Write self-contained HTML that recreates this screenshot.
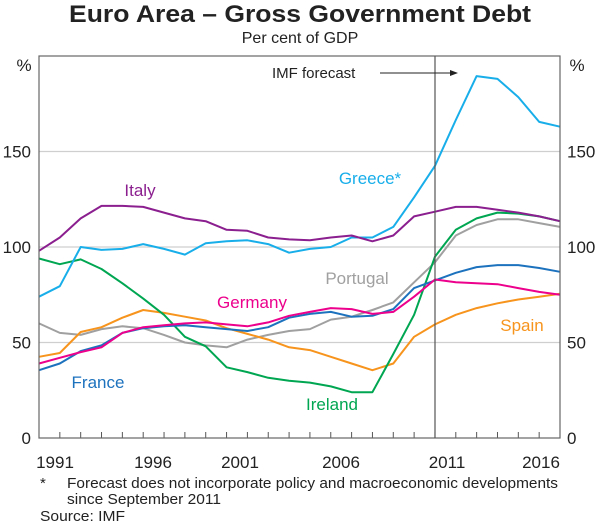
<!DOCTYPE html>
<html><head><meta charset="utf-8"><style>
body{margin:0;background:#fff;}
svg{display:block;font-family:"Liberation Sans",Arial,sans-serif;}
</style></head><body>
<svg id="chart" width="600" height="525" viewBox="0 0 600 525">
<text x="300" y="22" text-anchor="middle" font-size="24" font-weight="bold" textLength="462" lengthAdjust="spacingAndGlyphs" fill="#222">Euro Area – Gross Government Debt</text>
<text x="300" y="43" text-anchor="middle" font-size="16" fill="#222">Per cent of GDP</text>
<text x="24" y="71" text-anchor="middle" font-size="17" fill="#222">%</text>
<text x="577" y="71" text-anchor="middle" font-size="17" fill="#222">%</text>
<g id="grid"></g>
<g id="ticks"></g>
<g id="series"></g>
<rect x="39" y="56" width="521" height="382" fill="none" stroke="#666" stroke-width="1.2"/>
<line x1="435" y1="56" x2="435" y2="438" stroke="#555" stroke-width="1.2"/>
<text x="272" y="78" font-size="15" fill="#222">IMF forecast</text>
<line x1="380" y1="73" x2="452" y2="73" stroke="#222" stroke-width="1"/>
<polygon points="458,73 450,70 450,76" fill="#222"/>
<text x="140" y="196" text-anchor="middle" font-size="17" fill="#8B1F8F">Italy</text>
<text x="370" y="184" text-anchor="middle" font-size="17" fill="#18AEEA">Greece*</text>
<text x="357" y="284" text-anchor="middle" font-size="17" fill="#A0A0A0">Portugal</text>
<text x="252" y="308" text-anchor="middle" font-size="17" fill="#EC008C">Germany</text>
<text x="522" y="331" text-anchor="middle" font-size="17" fill="#F7941D">Spain</text>
<text x="98" y="388" text-anchor="middle" font-size="17" fill="#1D72BE">France</text>
<text x="332" y="410" text-anchor="middle" font-size="17" fill="#00A651">Ireland</text>
<text x="40" y="488" font-size="15" fill="#222">*</text>
<text x="67" y="488" font-size="15" fill="#222" textLength="491" lengthAdjust="spacingAndGlyphs">Forecast does not incorporate policy and macroeconomic developments</text>
<text x="67" y="504" font-size="15" fill="#222" textLength="154" lengthAdjust="spacingAndGlyphs">since September 2011</text>
<text x="40" y="521" font-size="15" fill="#222" textLength="85" lengthAdjust="spacingAndGlyphs">Source: IMF</text>
</svg>
<script>
const years = [1991,1992,1993,1994,1995,1996,1997,1998,1999,2000,2001,2002,2003,2004,2005,2006,2007,2008,2009,2010,2011,2012,2013,2014,2015,2016];
const yTicks = [0,50,100,150];
const xTickLabels = ["1991","1996","2001","2006","2011","2016"];
const xLabelPos = [55,153,240,341,447,541];
const italy = [98,105,115,121.5,121.5,121,118,115,113.5,109,108.5,105,104,103.5,105,106,103,106,116,118.5,121,121,119.5,118,116,113.5];
const greece = [74,79.5,100,98.5,99,101.5,99,96,102,103,103.5,101.5,97,99,100,105,105,110.5,126,142.5,166.5,189.5,188,178.5,165.5,163];
const ireland = [94,91,93.5,88.5,81,73,64.5,53,48,37,34.5,31.5,30,29,27,24,24,44,64.5,95,109,115,118,117.5,116,113.5];
const spain = [42.5,44.5,55.5,58,63,67,65.5,63.5,61.5,57.5,54.5,51.5,47.5,46,42.5,39,35.5,39,53,59.5,64.5,68,70.5,72.5,74,75.5];
const portugal = [60,55,54,57,58.5,57.5,54,50,48.5,47.5,51.5,54,56,57,62,63.5,67,71,81.5,92,106,111.5,114.5,114.5,112.5,110.5];
const france = [35.5,39,45.5,48.5,55,57.5,58.5,59,58,57,56,58,63,65,66,63.5,64,67.5,78.5,82.5,86.5,89.5,90.5,90.5,89,87];
const germany = [39,42,45,47.5,55,58,59,60,60.5,59.5,58.5,60.5,64,66,68,67.5,65,66,74,83,81.5,81,80.5,78.5,76.5,75];
const NS='http://www.w3.org/2000/svg';
function xs(y){return 39+(y-1991)*(521/25);}
function ys(v){return 438-v*1.91;}
const grid=document.getElementById('grid');
yTicks.forEach(t=>{
  if(t>0){const l=document.createElementNS(NS,'line');
  l.setAttribute('x1',39);l.setAttribute('x2',560);l.setAttribute('y1',ys(t));l.setAttribute('y2',ys(t));
  l.setAttribute('stroke','#cfcfcf');l.setAttribute('stroke-width','1.2');
  
  
  grid.appendChild(l);}
  const a=document.createElementNS(NS,'text');
  a.setAttribute('x',31);a.setAttribute('y',ys(t)+6);a.setAttribute('text-anchor','end');a.setAttribute('font-size','17');a.setAttribute('fill','#222');a.textContent=t;
  
  
  grid.appendChild(a);
  const b=document.createElementNS(NS,'text');
  b.setAttribute('x',567);b.setAttribute('y',ys(t)+6);b.setAttribute('font-size','17');b.setAttribute('fill','#222');b.textContent=t;
  
  
  grid.appendChild(b);
});
const ticks=document.getElementById('ticks');
years.forEach(y=>{
  const l=document.createElementNS(NS,'line');
  l.setAttribute('x1',xs(y));l.setAttribute('x2',xs(y));l.setAttribute('y1',438);l.setAttribute('y2',432);
  l.setAttribute('stroke','#555');l.setAttribute('stroke-width','1');
  
  
  ticks.appendChild(l);
});
xTickLabels.forEach((s,i)=>{
  const t=document.createElementNS(NS,'text');
  t.setAttribute('x',xLabelPos[i]);t.setAttribute('y',468);t.setAttribute('text-anchor','middle');t.setAttribute('font-size','17');t.setAttribute('fill','#222');t.textContent=s;
  
  
  ticks.appendChild(t);
});
const series=[['portugal',portugal,'#A0A0A0'],['spain',spain,'#F7941D'],['ireland',ireland,'#00A651'],['france',france,'#1D72BE'],['germany',germany,'#EC008C'],['greece',greece,'#18AEEA'],['italy',italy,'#8B1F8F']];
const sg=document.getElementById('series');
series.forEach(([n,d,c])=>{
  const p=document.createElementNS(NS,'polyline');
  p.setAttribute('points',d.map((v,i)=>xs(years[i]).toFixed(1)+','+ys(v).toFixed(1)).join(' '));
  p.setAttribute('fill','none');p.setAttribute('stroke',c);p.setAttribute('stroke-width','2');p.setAttribute('stroke-linejoin','round');
  
  
  sg.appendChild(p);
});
</script>
</body></html>
